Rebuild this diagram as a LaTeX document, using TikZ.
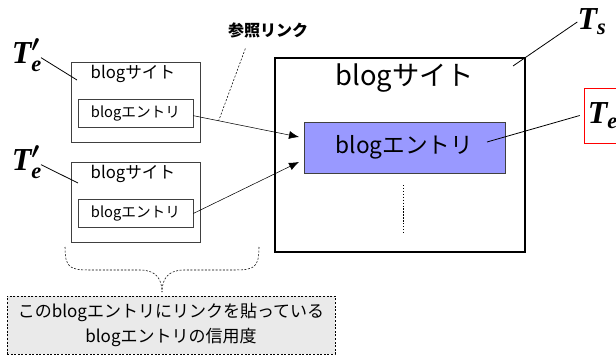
\documentclass[tikz,border=0pt]{standalone}
\usepackage{amsmath}
\usepackage{fontspec}
\setmainfont{Noto Sans CJK JP}
\newfontfamily\tfont{Liberation Serif}
\newcommand{\tvar}[1]{\text{\tfont\bfseries\itshape #1}}
\usetikzlibrary{calc, arrows.meta, positioning}
\definecolor{entryblue}{RGB}{153,153,255}
\definecolor{notegray}{RGB}{234,234,234}
\definecolor{boxgray}{RGB}{64,64,64}

\begin{document}
\begin{tikzpicture}
    [
        x=0.75pt, y=-0.75pt,
        sitebox/.style={draw=boxgray, minimum width=96.75pt, minimum height=60pt, inner sep=0pt},
        entrybox/.style={draw=boxgray, minimum width=86.25pt, minimum height=21pt, inner sep=0pt, font=\fontsize{11}{13}\selectfont},
        sitetitle/.style={inner sep=0pt, font=\fontsize{12.5}{15}\selectfont},
        tlabel/.style={inner sep=0pt, font=\fontsize{24}{28}\selectfont}
    ]
    \tikzstyle{line} = [draw, -{Latex[length=7.5pt,width=6pt]}]
    \tikzstyle{pointer} = [draw, line width=0.6pt]
    \tikzstyle{dots} = [draw, dash pattern=on 1.5pt off 1.2pt]

    \useasboundingbox (0,0) rectangle (616,356);

    % Target blog site
    \node[draw, line width=1.5pt, minimum width=187.5pt, minimum height=145.5pt] (site_s) at (400,155) {};
    \node[inner sep=0pt, font=\fontsize{20.5}{24}\selectfont] (site_s_title) at (405,78) {blogサイト};
    \node[draw=boxgray, fill=entryblue, minimum width=150.75pt, minimum height=38.25pt, inner sep=0pt, font=\fontsize{17}{20}\selectfont] (entry_e) at (404.5,147.5) {blogエントリ};
    \coordinate (dots_top) at (403,185);
    \coordinate (dots_bot) at (403,233);
    \path[draw, dash pattern=on 1pt off 1.2pt] (dots_top) -- (dots_bot);

    % Linking blog sites
    \node[sitebox] (site_1) at (135.5,102) {};
    \node[sitetitle] (site_1_title) at (133,74) {blogサイト};
    \node[entrybox] (entry_1) at (135.5,113) {blogエントリ};
    \node[sitebox] (site_2) at (135.5,202) {};
    \node[sitetitle] (site_2_title) at (133,174) {blogサイト};
    \node[entrybox] (entry_2) at (135.5,213.5) {blogエントリ};

    % Links into the target entry
    \coordinate (in_1) at (299,137);
    \coordinate (in_2) at (299,162);
    \path[line] ([yshift=-2pt]entry_1.east) -- (in_1);
    \path[line] (entry_2.east) -- (in_2);

    % Reference link label
    \node[inner sep=0pt, font=\bfseries\fontsize{12}{14}\selectfont] (ref_label) at (268,30) {参照リンク};
    \coordinate (ref_end) at ($([yshift=-2pt]entry_1.east)!0.24!(in_1)$);
    \path[dots] ([xshift=-17pt,yshift=-8pt]ref_label.south) -- (ref_end);

    % T labels
    \node[tlabel] (tp_1) at (27,55) {$\tvar{T}^{\boldsymbol{\prime}}_{\tvar{e}}$};
    \node[tlabel] (tp_2) at (27,162) {$\tvar{T}^{\boldsymbol{\prime}}_{\tvar{e}}$};
    \node[tlabel] (t_s) at (592,22) {$\tvar{T}_{\tvar{s}}$};
    \node[tlabel, draw=red, minimum width=28.5pt, minimum height=41pt] (t_e) at (603,115.5) {$\tvar{T}_{\tvar{e}}$};
    \coordinate (tp_1_in) at (77,80);
    \coordinate (tp_2_in) at (78,183);
    \coordinate (t_s_in) at (513,66);
    \coordinate (t_e_in) at (487,142);
    \path[pointer] ([xshift=-1pt,yshift=-2pt]tp_1.east) -- (tp_1_in);
    \path[pointer] ([xshift=-1pt,yshift=-2pt]tp_2.east) -- (tp_2_in);
    \path[pointer] (t_e_in) -- ([xshift=-3pt]t_e.west);
    \path[pointer] (t_s_in) -- (t_s.west);

    % Brace and note
    \node[dots, fill=notegray, minimum width=246pt, minimum height=43.5pt, inner sep=0pt, align=center, font=\fontsize{12.75}{18.75}\selectfont] (note) at (171,325) {このblogエントリにリンクを貼っている\\blogエントリの信用度};
    \coordinate (brace_l) at (65,247);
    \coordinate (brace_r) at (259,247);
    \coordinate (brace_tip) at (162,292);
    \path[dots] (brace_l) .. controls (65,268) and (70,270) .. (90,270) -- (140,270)
        .. controls (155,270) and (162,278) .. (brace_tip);
    \path[dots] (brace_r) .. controls (259,268) and (254,270) .. (234,270) -- (184,270)
        .. controls (169,270) and (162,278) .. (brace_tip);
\end{tikzpicture}
\end{document}
